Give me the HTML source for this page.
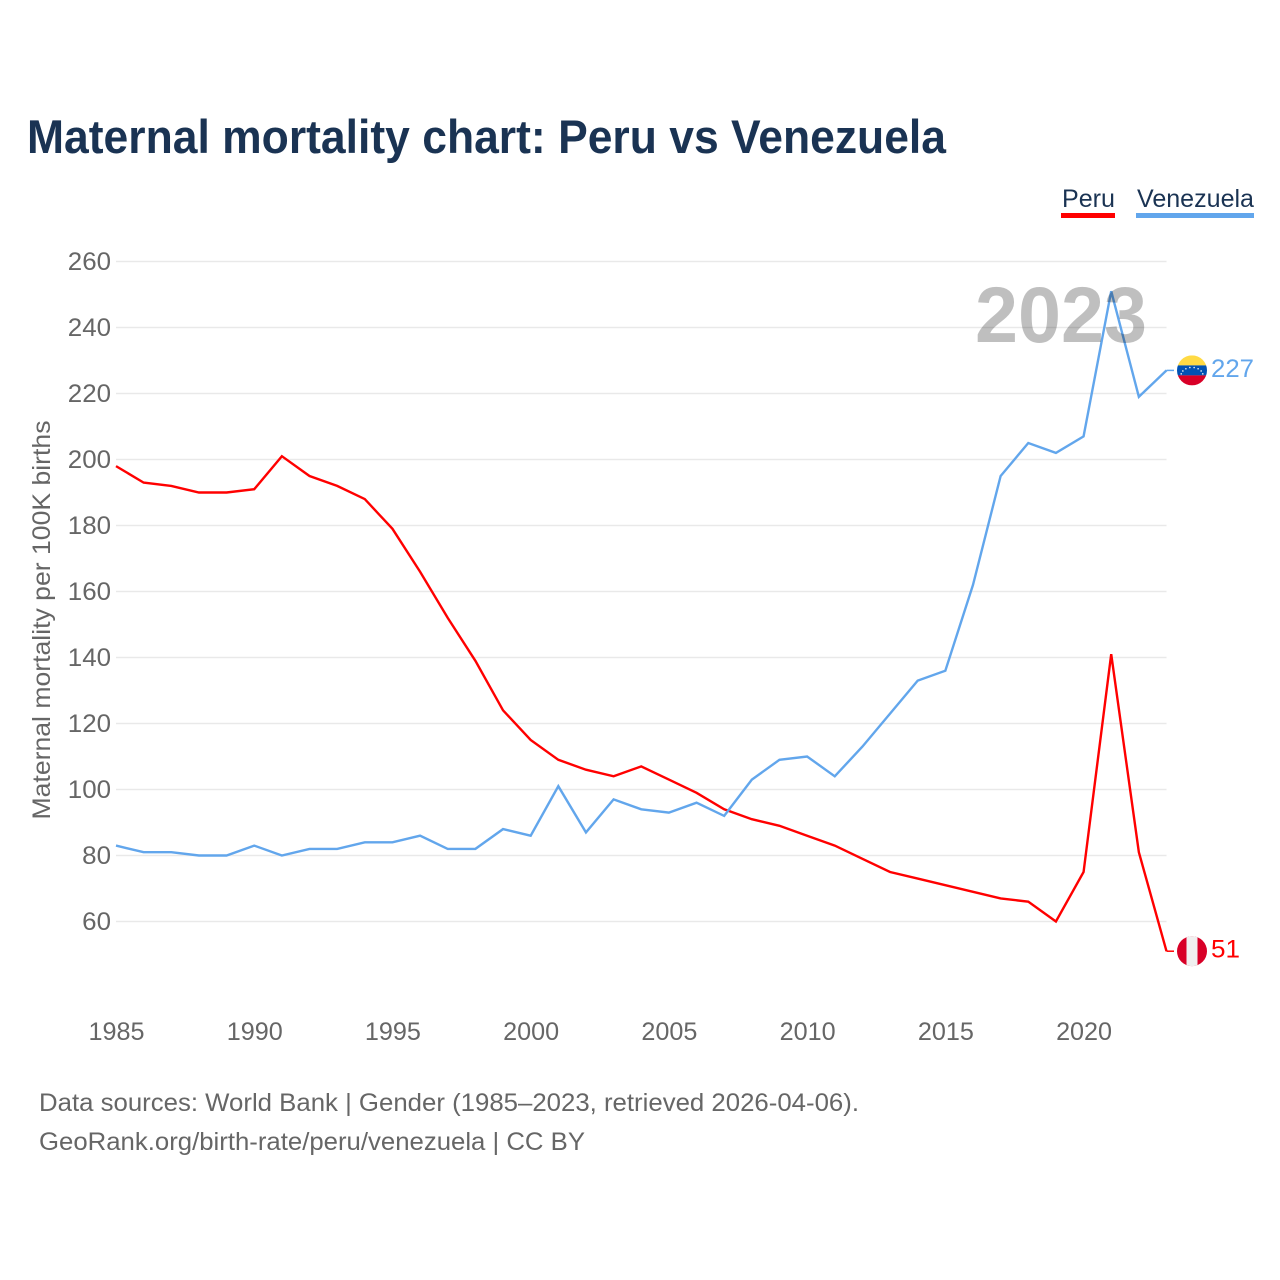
<!DOCTYPE html>
<html lang="en">
<head>
<meta charset="utf-8">
<title>Maternal mortality chart: Peru vs Venezuela</title>
<style>
html,body{margin:0;padding:0;background:#fff;width:1280px;height:1280px;overflow:hidden}
svg{display:block}
text{font-family:"Liberation Sans",sans-serif}
</style>
</head>
<body>
<svg id="chart" xmlns="http://www.w3.org/2000/svg" width="1280" height="1280" viewBox="0 0 1280 1280">
  <rect width="1280" height="1280" fill="#fff"/>
  <text x="27" y="153" font-size="47" font-weight="700" fill="#1a3353" textLength="919" lengthAdjust="spacingAndGlyphs">Maternal mortality chart: Peru vs Venezuela</text>
  <g>
    <g>
      <text x="1062" y="207" font-size="25" fill="#1a3353" textLength="53" lengthAdjust="spacingAndGlyphs">Peru</text>
      <rect x="1061" y="213" width="54" height="5" fill="#ff0000"/>
    </g>
    <g>
      <text x="1137" y="207" font-size="25" fill="#1a3353" textLength="117" lengthAdjust="spacingAndGlyphs">Venezuela</text>
      <rect x="1136" y="213" width="118" height="5" fill="#62a6ec"/>
    </g>
  </g>
  <g id="grid"></g>
  <g id="yticks"></g>
  <g id="xticks"></g>
  <text transform="translate(50,620) rotate(-90)" text-anchor="middle" font-size="25" fill="#666" textLength="399" lengthAdjust="spacingAndGlyphs">Maternal mortality per 100K births</text>
  <g id="series"></g>
  <text x="975" y="342" font-size="79" font-weight="700" fill="#000" fill-opacity="0.25" textLength="172" lengthAdjust="spacingAndGlyphs">2023</text>
  <g id="ends"></g>
  <text x="39" y="1111" font-size="25" fill="#666" textLength="820" lengthAdjust="spacingAndGlyphs">Data sources: World Bank | Gender (1985–2023, retrieved 2026-04-06).</text>
  <text x="39" y="1150" font-size="25" fill="#666" textLength="546" lengthAdjust="spacingAndGlyphs">GeoRank.org/birth-rate/peru/venezuela | CC BY</text>
</svg>
<script>
const startYear = 1985;
const endYear = 2023;
const yTickLabels = [60, 80, 100, 120, 140, 160, 180, 200, 220, 240, 260];
const xTickLabels = [1985, 1990, 1995, 2000, 2005, 2010, 2015, 2020];
const peruValues = [198,193,192,190,190,191,201,195,192,188,179,166,152,139,124,115,109,106,104,107,103,99,94,91,89,86,83,79,75,73,71,69,67,66,60,75,141,81,51];
const venezuelaValues = [83,81,81,80,80,83,80,82,82,84,84,86,82,82,88,86,101,87,97,94,93,96,92,103,109,110,104,113,123,133,136,162,195,205,202,207,251,219,227];

const NS = 'http://www.w3.org/2000/svg';
const plotLeft = 116, plotRight = 1166.5, yAt260 = 261.5, yAt60 = 921.5;
function xScale(year) {
  return plotLeft + (year - startYear) * (plotRight - plotLeft) / (endYear - startYear);
}
function yScale(v) {
  return yAt60 + (v - 60) * (yAt260 - yAt60) / 200;
}
function make(tag, attrs, parent) {
  const el = document.createElementNS(NS, tag);
  for (const k in attrs) el.setAttribute(k, attrs[k]);
  parent.appendChild(el);
  return el;
}
const grid = document.getElementById('grid');
const yticks = document.getElementById('yticks');
const xticks = document.getElementById('xticks');
const series = document.getElementById('series');
const ends = document.getElementById('ends');

yTickLabels.forEach(function (v) {
  const line = make('line', {x1: plotLeft, x2: plotRight, y1: yScale(v), y2: yScale(v), stroke: '#e9e9e9', 'stroke-width': 1.5}, grid);
  
  
  const t = make('text', {x: 111, y: yScale(v) + 8.5, 'text-anchor': 'end', 'font-size': 25, fill: '#666', textLength: String(v).length * 14.4, lengthAdjust: 'spacingAndGlyphs'}, yticks);
  
  
  t.textContent = v;
});
xTickLabels.forEach(function (yr) {
  const t = make('text', {x: xScale(yr) + 0.5, y: 1040, 'text-anchor': 'middle', 'font-size': 25, fill: '#666', textLength: 56, lengthAdjust: 'spacingAndGlyphs'}, xticks);
  
  
  t.textContent = yr;
});
function pathFor(values) {
  return values.map(function (v, i) {
    return (i ? 'L' : 'M') + xScale(startYear + i).toFixed(2) + ' ' + yScale(v).toFixed(2);
  }).join(' ');
}
const peruLine = make('path', {d: pathFor(peruValues), fill: 'none', stroke: '#ff0000', 'stroke-width': 2.4, 'stroke-linejoin': 'miter'}, series);


const venLine = make('path', {d: pathFor(venezuelaValues), fill: 'none', stroke: '#62a6ec', 'stroke-width': 2.4, 'stroke-linejoin': 'miter'}, series);



function endLabel(value, color, width) {
  const y = yScale(value);
  const conn = make('line', {x1: plotRight, x2: 1174, y1: y, y2: y, stroke: color, 'stroke-width': 1.5}, ends);
  
  
  const t = make('text', {x: 1211, y: y + 6.5, 'font-size': 25, fill: color, textLength: width, lengthAdjust: 'spacingAndGlyphs'}, ends);
  
  
  t.textContent = value;
  return y;
}
const peruEndY = endLabel(peruValues[peruValues.length - 1], '#ff0000', 29);
const venEndY = endLabel(venezuelaValues[venezuelaValues.length - 1], '#62a6ec', 43);

const defs = make('defs', {}, ends);
const cp1 = make('clipPath', {id: 'clip-pe'}, defs);
make('circle', {cx: 1192, cy: peruEndY, r: 15}, cp1);
const cp2 = make('clipPath', {id: 'clip-ve'}, defs);
make('circle', {cx: 1192, cy: venEndY, r: 15}, cp2);

const flagPe = make('g', {'clip-path': 'url(#clip-pe)'}, ends);


make('rect', {x: 1177, y: peruEndY - 15, width: 30, height: 30, fill: '#d80027'}, flagPe);
make('rect', {x: 1186.5, y: peruEndY - 15, width: 11, height: 30, fill: '#f0f0f0'}, flagPe);

const flagVe = make('g', {'clip-path': 'url(#clip-ve)'}, ends);


make('rect', {x: 1177, y: venEndY - 15, width: 30, height: 10, fill: '#ffda44'}, flagVe);
make('rect', {x: 1177, y: venEndY - 5, width: 30, height: 10, fill: '#0052b4'}, flagVe);
make('rect', {x: 1177, y: venEndY + 5, width: 30, height: 10, fill: '#d80027'}, flagVe);
for (let i = 0; i < 8; i++) {
  const a = Math.PI * (1 + (i + 0.5) / 8);
  make('circle', {cx: 1192 + 11 * Math.cos(a), cy: venEndY + 5 + 8 * Math.sin(a), r: 0.8, fill: '#f0f0f0'}, flagVe);
}
</script>
</body>
</html>
